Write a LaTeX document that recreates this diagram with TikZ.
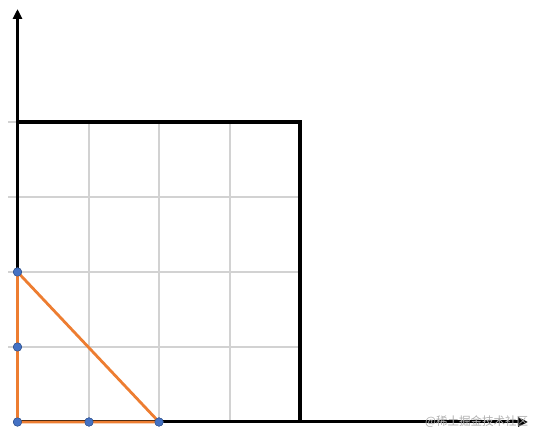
\documentclass[tikz,border=0pt]{standalone}
\usepackage{fontspec}
\newfontfamily\cjk{Noto Sans CJK SC}
\usetikzlibrary{arrows.meta}
\definecolor{gridgray}{RGB}{210,210,210}
\definecolor{triorange}{RGB}{237,125,49}
\definecolor{dotblue}{RGB}{68,114,196}
\tikzset{
  dot/.style={circle, fill=dotblue, draw=dotblue!70!black, inner sep=0pt, minimum size=8.5pt},
  axis/.style={line width=3pt, -{Triangle[length=10pt,width=9pt]}}
}
\begin{document}
\begin{tikzpicture}[x=1pt,y=1pt]
\useasboundingbox (0,0) rectangle (541,444);
% grid
\foreach \x in {89,159,230} \draw [gridgray, line width=1.2pt] (\x,22) -- (\x,322);
\foreach \y in {97,172,247,322} \draw [gridgray, line width=1.2pt] (8,\y) -- (300,\y);
% square
\draw [line width=4pt] (17.5,322) -- (300,322) -- (300,22);
% axes
\coordinate (o) at (17.5,22);
\coordinate (xend) at (528,22);
\coordinate (yend) at (17.5,435);
\draw [axis] (o) -- (xend);
\draw [axis] (o) -- (yend);
% triangle
\node [dot] (a) at (17.5,22) {};
\node [dot] (b) at (17.5,97) {};
\node [dot] (c) at (17.5,172) {};
\node [dot] (d) at (89,22) {};
\node [dot] (e) at (159,22) {};
\draw [triorange, line width=2.8pt] (a.center) -- (c.center) -- (e.center) -- cycle;
\node [dot] at (a) {};
\node [dot] at (b) {};
\node [dot] at (c) {};
\node [dot] at (d) {};
\node [dot] at (e) {};
% watermark
\node [anchor=west, text=black!32, font=\cjk\fontsize{11.5pt}{13pt}\selectfont, inner sep=0pt] (mark) at (425,22) {@稀土掘金技术社区};
\end{tikzpicture}
\end{document}
